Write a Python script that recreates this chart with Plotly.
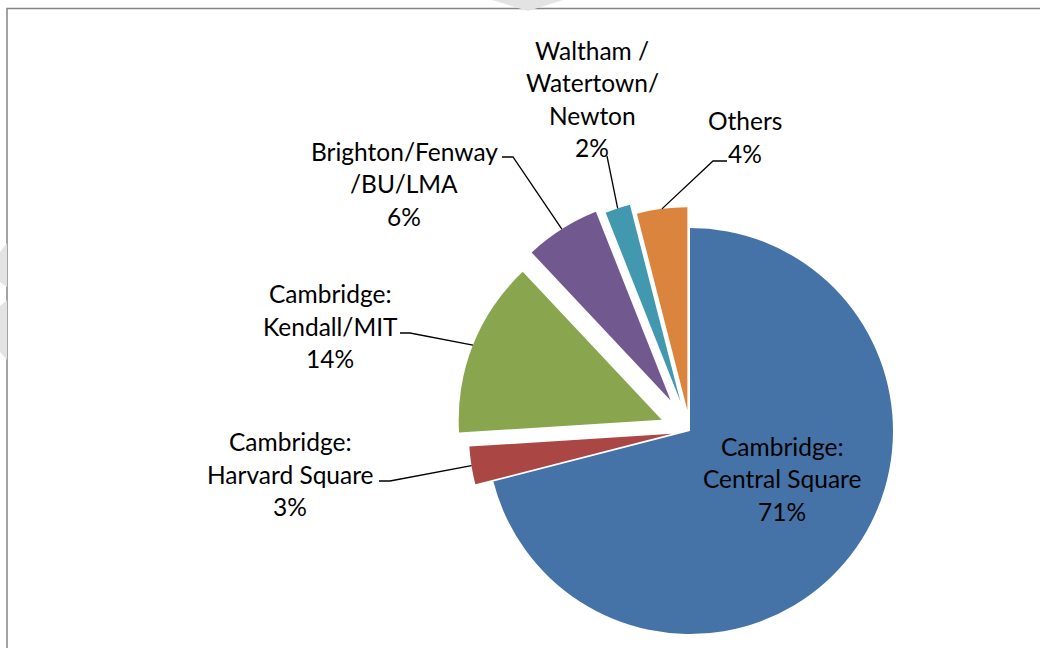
import math
import plotly.graph_objects as go

# ---- data ----
labels = ["Cambridge: Central Square", "Cambridge: Harvard Square", "Cambridge: Kendall/MIT",
          "Brighton/Fenway /BU/LMA", "Waltham / Watertown/ Newton", "Others"]
values = [71, 3, 14, 6, 2, 4]
colors = ["#4572A7", "#AA4643", "#89A54E", "#71588F", "#4198AF", "#DB843D"]
pulls = [0.0, 0.09, 0.15, 0.178, 0.153, 0.103]   # explode, fraction of radius

label_lines = [
    ["Cambridge:", "Central Square", "71%"],
    ["Cambridge:", "Harvard Square", "3%"],
    ["Cambridge:", "Kendall/MIT", "14%"],
    ["Brighton/Fenway", "/BU/LMA", "6%"],
    ["Waltham /", "Watertown/", "Newton", "2%"],
    ["Others", "4%"],
]

# ---- layout constants (pixels) ----
W, H = 1040, 648
CX, CY, R = 690, 431, 203
FONT = "Lato"
FS = 24.5
LINE_GAP = 32.5
label_pos = [(782, 479), (290, 474), (330, 326), (404, 184), (592, 99), (745, 137)]
leader_start = [None, [(379, 481), (390, 481)], [(400, 333), (410, 333)],
                [(502, 157), (513, 157)], [(607, 156)], [(727, 161), (713, 161)]]


def px(x):
    return x / W


def py(y):
    return 1 - y / H


total = sum(values)
fig = go.Figure()
shapes = []
annotations = []
cum = 0
for i, v in enumerate(values):
    mid = math.radians(360 * (cum + v / 2) / total)
    cum += v
    ocx = CX + pulls[i] * R * math.sin(mid)
    ocy = CY - pulls[i] * R * math.cos(mid)
    cols = [c if j == i else "rgba(0,0,0,0)" for j, c in enumerate(colors)]
    fig.add_trace(go.Pie(
        values=values, labels=labels, sort=False, direction="clockwise", rotation=0,
        marker=dict(colors=cols, line=dict(width=0)), textinfo="none",
        hoverinfo="label+percent", showlegend=False,
        domain=dict(x=[px(ocx - R), px(ocx + R)], y=[py(ocy + R), py(ocy - R)]),
    ))
    # leader line to slice edge
    if leader_start[i]:
        ex = ocx + R * math.sin(mid)
        ey = ocy - R * math.cos(mid)
        pts = leader_start[i] + [(ex, ey)]
        path = "M " + " L ".join(f"{px(a):.5f},{py(b):.5f}" for a, b in pts)
        shapes.append(dict(type="path", path=path, xref="paper", yref="paper",
                           line=dict(color="black", width=1.3)))
    # label text
    lx, ly = label_pos[i]
    n = len(label_lines[i])
    for k, t in enumerate(label_lines[i]):
        yy = ly + (k - (n - 1) / 2) * LINE_GAP
        annotations.append(dict(text=t, x=px(lx), y=py(yy), xref="paper", yref="paper",
                                showarrow=False, xanchor="center", yanchor="middle",
                                font=dict(family=FONT, size=FS, color="black")))

# chart border (only top and left edges are visible)
border = [(7, 648), (7, 8.5), (1040, 8.5)]
shapes.append(dict(type="path", xref="paper", yref="paper",
                   path="M " + " L ".join(f"{px(a):.5f},{py(b):.5f}" for a, b in border),
                   line=dict(color="#858585", width=1.5), layer="below"))
# faint watermark fragments
for poly in [[(492, 0), (528, 11), (563, 0)],
             [(0, 252), (7, 243), (7, 287), (0, 282)],
             [(0, 306), (7, 300), (7, 360), (0, 352)]]:
    path = "M " + " L ".join(f"{px(a):.5f},{py(b):.5f}" for a, b in poly) + " Z"
    shapes.append(dict(type="path", path=path, xref="paper", yref="paper",
                       fillcolor="#e3e3e3", line=dict(width=0), layer="below"))

fig.update_layout(width=W, height=H, margin=dict(l=0, r=0, t=0, b=0),
                  paper_bgcolor="white", plot_bgcolor="white",
                  shapes=shapes, annotations=annotations)
fig.write_html("out.html", config={"displayModeBar": False},
               post_script="document.body.style.margin='0';document.body.style.overflow='hidden';")
